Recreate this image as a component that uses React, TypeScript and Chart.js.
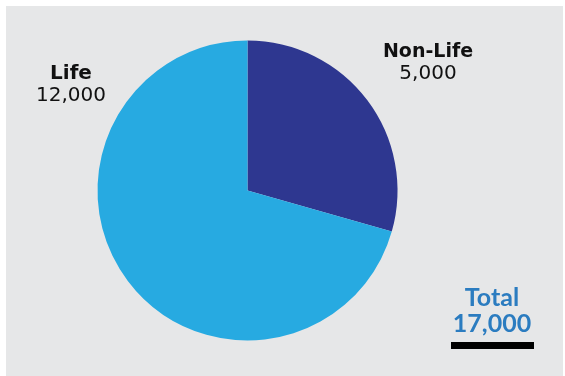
import React, { useEffect, useRef } from "react";
import { Chart, registerables } from "chart.js";

Chart.register(...registerables);

const categories = ["Non-Life", "Life"];
const values = [5000, 12000];
const colors = ["#2e3790", "#27aae1"];
const totalLabel = "Total";

const fmt = (n: number) => n.toLocaleString("en-US");

const FONT = "'DejaVu Sans', sans-serif";
const TFONT = "Lato, 'Open Sans', sans-serif";

const labelPlugin = {
  id: "labels",
  afterDraw(chart: any) {
    const ctx = chart.ctx;
    ctx.save();
    ctx.textAlign = "center";
    ctx.textBaseline = "alphabetic";
    const pos: Record<string, { x: number; y1: number; y2: number; s: number }> = {
      "Non-Life": { x: 428, y1: 57, y2: 79, s: 19 },
      Life: { x: 71, y1: 79, y2: 101, s: 20 },
    };
    categories.forEach((c, i) => {
      const p = pos[c];
      ctx.fillStyle = "#111111";
      ctx.font = `bold ${p.s}px ${FONT}`;
      ctx.fillText(c, p.x, p.y1);
      ctx.font = `20px ${FONT}`;
      ctx.fillText(fmt(values[i]), p.x, p.y2);
    });
    const total = values.reduce((a, b) => a + b, 0);
    ctx.fillStyle = "#2b7cc0";
    ctx.font = `bold 25px ${TFONT}`;
    ctx.fillText(totalLabel, 492, 306);
    ctx.font = `bold 25px ${TFONT}`;
    ctx.fillText(fmt(total), 492, 332);
    ctx.fillStyle = "#000000";
    ctx.fillRect(451, 342, 83, 7);
    ctx.restore();
  },
};

export default function App() {
  const ref = useRef<HTMLCanvasElement>(null);
  useEffect(() => {
    if (!ref.current) return;
    const chart = new Chart(ref.current, {
      type: "pie",
      data: {
        labels: categories,
        datasets: [
          {
            data: values,
            backgroundColor: colors,
            borderWidth: 0,
          },
        ],
      },
      options: {
        responsive: false,
        animation: false,
        layout: { padding: { left: 97.5, right: 167.5, top: 40.5, bottom: 35.5 } },
        plugins: {
          legend: { display: false },
          tooltip: { enabled: false },
        },
      },
      plugins: [labelPlugin],
    });
    return () => chart.destroy();
  }, []);
  return (
    <div style={{ position: "absolute", left: 0, top: 0, width: 565, height: 376, background: "#ffffff" }}>
      <div style={{ position: "absolute", left: 6, top: 6, width: 557, height: 370, background: "#e6e7e8" }} />
      <canvas ref={ref} width={565} height={376} style={{ position: "absolute", left: 0, top: 0 }} />
    </div>
  );
}
